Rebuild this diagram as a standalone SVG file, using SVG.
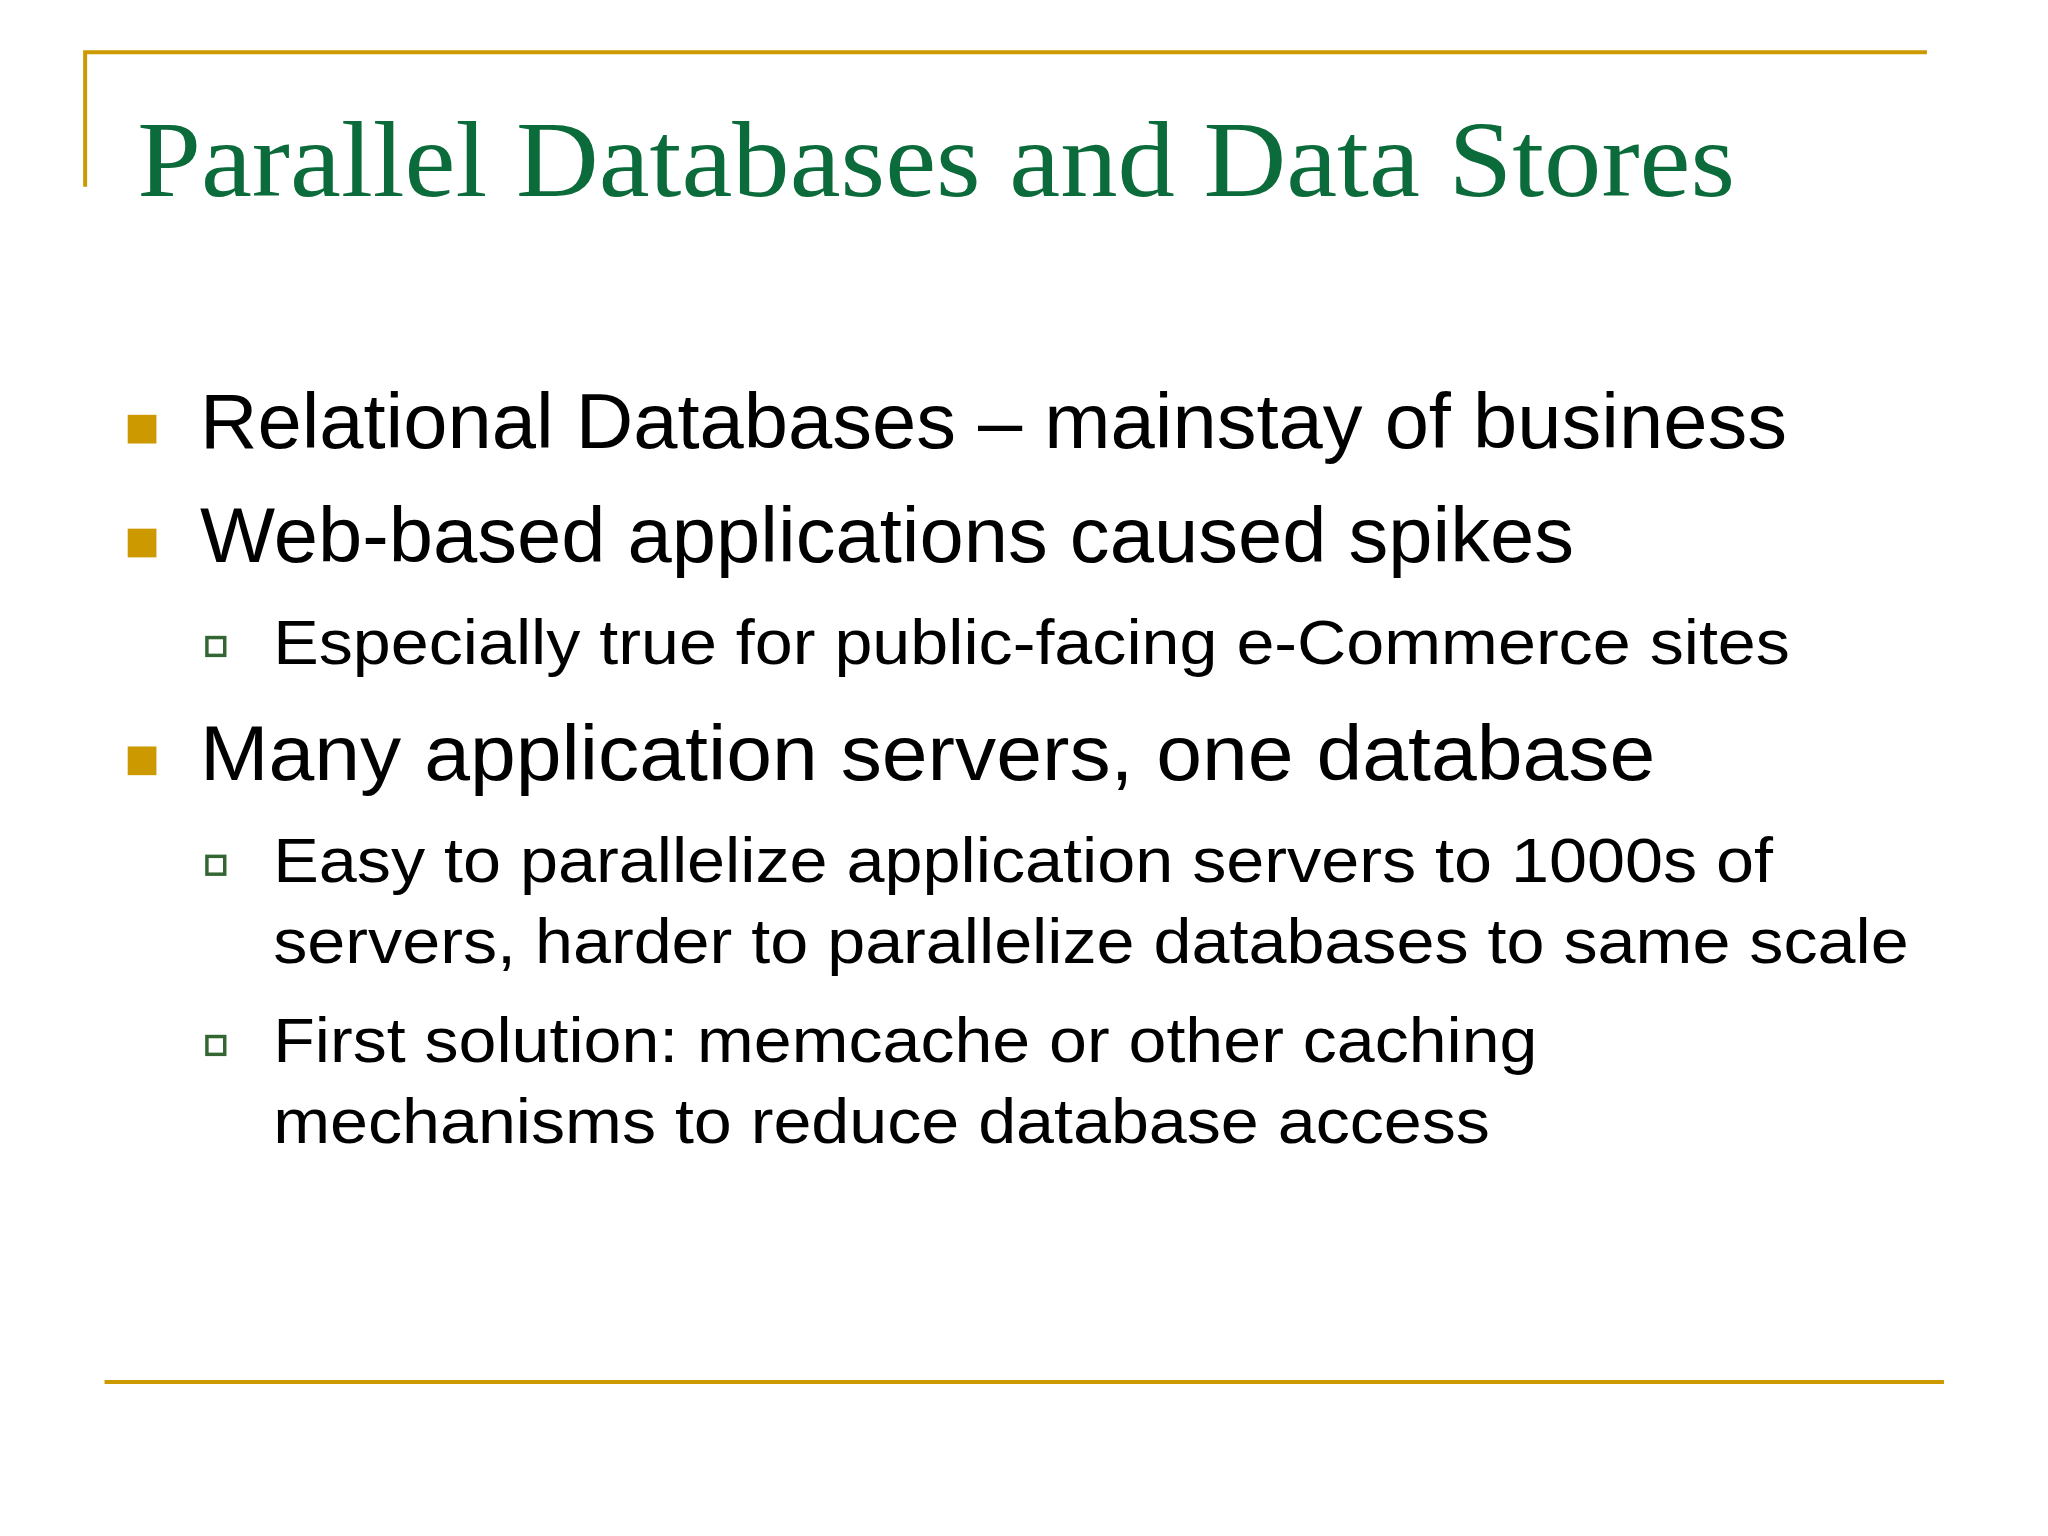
<svg xmlns="http://www.w3.org/2000/svg" width="2048" height="1536" viewBox="0 0 2048 1536">
<style>
.rule{stroke:#CC9900;stroke-width:4;fill:none}
.t1{font-family:"Liberation Sans",Arial,sans-serif;font-size:78px;fill:#000}
.t2{font-family:"Liberation Sans",Arial,sans-serif;font-size:63px;fill:#000}
.b1{fill:#CC9900}
.b2{fill:#fff;stroke:#336633;stroke-width:3.5}
</style>
<rect width="2048" height="1536" fill="#fff"/>
<g transform="scale(0.99)">
<g id="frame">
<path class="rule" d="M86 188.7V52.8H1946.4"/>
<path class="rule" d="M105.6 1396H1963.6"/>
</g>
<g id="title">
<text x="138.6" y="198" font-family="Liberation Serif,'Times New Roman',serif" font-size="110" fill="#0B6B3A" textLength="1614" lengthAdjust="spacingAndGlyphs">Parallel Databases and Data Stores</text>
</g>
<g id="bullets">
<rect class="b1" x="129" y="419" width="29" height="29"/>
<text class="t1" x="202" y="452.6" textLength="1603" lengthAdjust="spacingAndGlyphs">Relational Databases – mainstay of business</text>
<rect class="b1" x="129" y="534" width="29" height="29"/>
<text class="t1" x="202" y="567.4" textLength="1388" lengthAdjust="spacingAndGlyphs">Web-based applications caused spikes</text>
<rect class="b2" x="209" y="644" width="18" height="18"/>
<text class="t2" x="276" y="670.4" textLength="1532" lengthAdjust="spacingAndGlyphs">Especially true for public-facing e-Commerce sites</text>
<rect class="b1" x="129" y="754" width="29" height="29"/>
<text class="t1" x="202" y="787.8" textLength="1470" lengthAdjust="spacingAndGlyphs">Many application servers, one database</text>
<rect class="b2" x="209" y="865" width="18" height="18"/>
<text class="t2" x="276" y="890.7" textLength="1515" lengthAdjust="spacingAndGlyphs">Easy to parallelize application servers to 1000s of</text>
<text class="t2" x="276" y="972.5" textLength="1652" lengthAdjust="spacingAndGlyphs">servers, harder to parallelize databases to same scale</text>
<rect class="b2" x="209" y="1047" width="18" height="18"/>
<text class="t2" x="276" y="1072.8" textLength="1277" lengthAdjust="spacingAndGlyphs">First solution: memcache or other caching</text>
<text class="t2" x="276" y="1154.7" textLength="1229" lengthAdjust="spacingAndGlyphs">mechanisms to reduce database access</text>
</g>
</g>
</svg>
